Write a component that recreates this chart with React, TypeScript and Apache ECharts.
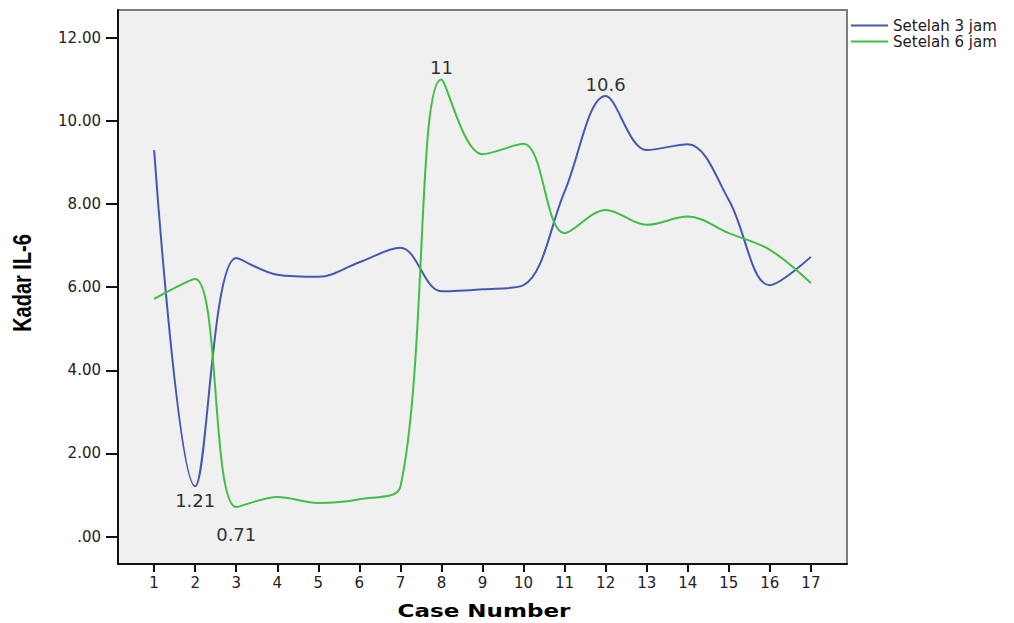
import React, { useEffect, useRef } from "react";
import * as echarts from "echarts";

const caseNumbers = [1, 2, 3, 4, 5, 6, 7, 8, 9, 10, 11, 12, 13, 14, 15, 16, 17];
const setelah3Jam = [9.3, 1.21, 6.7, 6.3, 6.25, 6.6, 6.95, 5.9, 5.95, 6.05, 8.3, 10.6, 9.3, 9.44, 8.1, 6.05, 6.73];
const setelah6Jam = [5.72, 6.2, 0.71, 0.95, 0.81, 0.9, 1.2, 11, 9.2, 9.45, 7.3, 7.86, 7.5, 7.7, 7.3, 6.9, 6.1];
const labelsBelow3Jam = [2];
const labelsAbove3Jam = [12];
const labelsBelow6Jam = [3];
const labelsAbove6Jam = [8];
const yTicks = [0, 2, 4, 6, 8, 10, 12];
const seriesNames = ["Setelah 3 jam", "Setelah 6 jam"];

const BLUE = "#4558b0";
const GREEN = "#3fbf45";
const FONT = "DejaVu Sans";

function buildData(values: number[], below: number[], above: number[], belowDist: number) {
  return caseNumbers.map((c, i) => {
    const item: any = { value: [c, values[i]] };
    const isBelow = below.includes(c);
    const isAbove = above.includes(c);
    if (isBelow || isAbove) {
      item.label = {
        show: true,
        position: isBelow ? "bottom" : "top",
        distance: isBelow ? belowDist : 3,
        formatter: () => String(values[i]),
        fontFamily: FONT,
        fontSize: 18,
        color: "#333",
      };
    }
    return item;
  });
}

export default function App() {
  const ref = useRef<HTMLDivElement>(null);
  useEffect(() => {
    if (!ref.current) return;
    const chart = echarts.init(ref.current, null, { renderer: "svg" });
    chart.setOption({
      animation: false,
      backgroundColor: "#ffffff",
      grid: {
        left: 118,
        top: 10,
        right: 167,
        bottom: 59,
        show: true,
        backgroundColor: "#f0f0f0",
        borderColor: "#7d7d7d",
        borderWidth: 2,
      },
      legend: {
        orient: "vertical",
        left: 846,
        top: 13,
        itemWidth: 37,
        itemHeight: 2,
        itemGap: 1,
        icon: "rect",
        data: seriesNames,
        textStyle: { fontFamily: FONT, fontSize: 15, color: "#222" },
      },
      xAxis: {
        type: "value",
        min: 0.12,
        max: 17.88,
        splitLine: { show: false },
        axisLine: { show: true, onZero: false, lineStyle: { color: "#111", width: 2 } },
        axisTick: { show: true, length: 8, customValues: caseNumbers, lineStyle: { color: "#111", width: 2 } },
        axisLabel: {
          customValues: caseNumbers,
          fontFamily: FONT,
          fontSize: 15,
          color: "#222",
          margin: 11,
        },
      },
      yAxis: {
        type: "value",
        min: -0.66,
        max: 12.67,
        splitLine: { show: false },
        axisLine: { show: true, onZero: false, lineStyle: { color: "#111", width: 2 } },
        axisTick: { show: true, length: 12, customValues: yTicks, lineStyle: { color: "#111", width: 2 } },
        axisLabel: {
          customValues: yTicks,
          formatter: (v: number) => (v === 0 ? ".00" : v.toFixed(2)),
          fontFamily: FONT,
          fontSize: 15,
          color: "#222",
          margin: 17,
        },
      },
      graphic: [
        {
          type: "text",
          x: 23,
          y: 283,
          rotation: Math.PI / 2,
          scaleX: 0.8,
          style: {
            text: "Kadar IL-6",
            fontFamily: "Liberation Sans",
            fontWeight: "bold",
            fontSize: 25,
            fill: "#000",
            align: "center",
            verticalAlign: "middle",
          },
        },
        {
          type: "text",
          x: 484,
          y: 611,
          scaleX: 1.28,
          style: {
            text: "Case Number",
            fontFamily: FONT,
            fontWeight: "bold",
            fontSize: 18,
            fill: "#000",
            align: "center",
            verticalAlign: "middle",
          },
        },
      ],
      series: [
        {
          name: seriesNames[0],
          type: "line",
          smooth: 0.35,
          symbol: "circle",
          symbolSize: 0,
          showAllSymbol: true,
          color: BLUE,
          lineStyle: { width: 2, color: BLUE },
          data: buildData(setelah3Jam, labelsBelow3Jam, labelsAbove3Jam, 5),
        },
        {
          name: seriesNames[1],
          type: "line",
          smooth: 0.35,
          symbol: "circle",
          symbolSize: 0,
          showAllSymbol: true,
          color: GREEN,
          lineStyle: { width: 2, color: GREEN },
          data: buildData(setelah6Jam, labelsBelow6Jam, labelsAbove6Jam, 18),
        },
      ],
    });
    return () => chart.dispose();
  }, []);
  return (
    <div
      ref={ref}
      style={{ position: "fixed", left: 0, top: 0, width: 1014, height: 623 }}
    />
  );
}
